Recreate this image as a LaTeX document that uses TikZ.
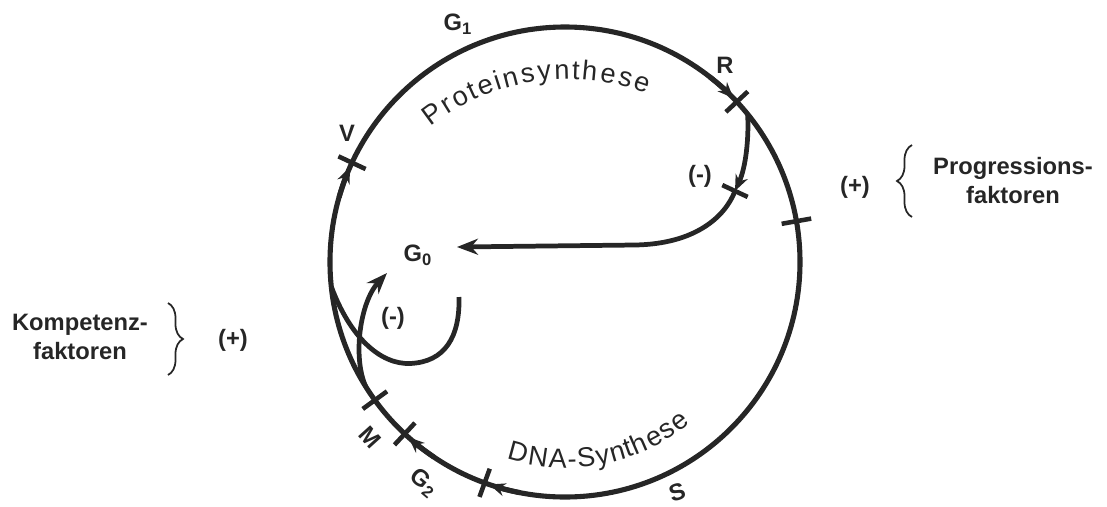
\documentclass[tikz,border=0pt]{standalone}
\usepackage{fontspec}
\setmainfont{Liberation Sans}
\usetikzlibrary{arrows.meta,decorations.text,decorations.pathreplacing}

\begin{document}
\begin{tikzpicture}[
		cycle/.style={line width=2.9pt, draw=black!85},
		flow/.style={line width=2.7pt, draw=black!85},
		bar/.style={line width=2.6pt, draw=black!85},
		tip/.style={-{Stealth[length=0.32cm, width=0.26cm]}},
		bigtip/.style={-{Stealth[length=0.42cm, width=0.32cm]}},
		lbl/.style={font=\fontsize{13.5}{16.5}\selectfont\bfseries, text=black!85},
		curly/.style={decorate, decoration={brace, amplitude=0.3cm}, line width=1pt, draw=black!85}
	]
	
	\useasboundingbox (-11.3,-4.88) rectangle (10.84,5.24);
	
	% cell cycle
	\draw[cycle] (0,0) circle (4.7);
	
	% checkpoints on the cycle
	\foreach \a in {155,43,10,216,227,250}
		\draw[bar] (\a:4.4) -- (\a:5.0);
	
	% direction of the cycle (clockwise)
	\foreach \a in {155,43,227,250}
		\draw[cycle,tip] (\a+9:4.7) arc[start angle=\a+9, end angle=\a+1.2, radius=4.7];
	
	% phase texts
	\path[shift={(0.06,-0.74)}, decorate, decoration={text effects along path, text={Proteinsynthese},
		text effects/.cd, fit text to path, characters={text along path, text=black!85, font=\fontsize{15.5}{18}\selectfont}}]
		(128.5:4.4) arc[start angle=128.5, end angle=69, radius=4.4];
	\path[shift={(0.02,-0.26)}, decorate, decoration={text effects along path, text={DNA-Synthese},
		text effects/.cd, fit text to path, characters={text along path, text=black!85, font=\fontsize{15.5}{18}\selectfont}}]
		(252:3.86) arc[start angle=252, end angle=310, radius=3.86];
	
	% labels on the cycle
	\node[lbl] (G1) at (-2.14,4.76) {G\textsubscript{1}};
	\node[lbl] (R) at (3.2,3.94) {R};
	\node[lbl] (V) at (-4.36,2.58) {V};
	\node[lbl,rotate=-48] (M) at (-3.9,-3.5) {M};
	\node[lbl,rotate=-40] (G2) at (-2.82,-4.42) {G\textsubscript{2}};
	\node[lbl,rotate=18] (S) at (2.24,-4.6) {S};
	\node[lbl] (G0) at (-2.94,0.14) {G\textsubscript{0}};
	
	% exit from R into G0
	\coordinate (Rout) at (39:4.7);
	\coordinate (Rtick) at (3.4,1.42);
	\coordinate (G0tip) at (-2.16,0.3);
	\draw[flow,tip] (Rout) .. controls (3.68,2.5) and (3.62,1.9) .. (Rtick);
	\draw[flow,bigtip] (Rtick) .. controls (3.2,0.9) and (2.6,0.36) .. (1.4,0.34) -- (G0tip);
	\draw[bar,shift={(Rtick)}] (155:0.28) -- (-25:0.28);
	\node[lbl] (minusR) at (2.7,1.72) {(-)};
	
	% exit after M into G0, and hook
	\coordinate (Mout) at (212:4.7);
	\coordinate (G0low) at (-3.56,-0.22);
	\draw[flow,bigtip] (Mout) .. controls (-4.25,-1.9) and (-4.1,-0.8) .. (G0low);
	\coordinate (Jstart) at (186:4.7);
	\coordinate (Jend) at (-2.12,-0.7);
	\draw[flow] (Jstart) .. controls (-4.3,-1.5) and (-3.7,-2.05) .. (-3.1,-2.03)
		.. controls (-2.4,-2.0) and (-2.1,-1.5) .. (Jend);
	\node[lbl] (minusM) at (-3.44,-1.12) {(-)};
	
	% factors
	\node[lbl] (plusR) at (5.8,1.5) {(+)};
	\draw[curly] (6.94,0.9) -- (6.94,2.34);
	\node[lbl,align=center] (prog) at (8.96,1.62) {Progressions-\\faktoren};
	
	\node[lbl,align=center] (komp) at (-9.7,-1.5) {Kompetenz-\\faktoren};
	\draw[curly] (-7.94,-0.82) -- (-7.94,-2.26);
	\node[lbl] (plusL) at (-6.64,-1.56) {(+)};
	
\end{tikzpicture}
\end{document}
